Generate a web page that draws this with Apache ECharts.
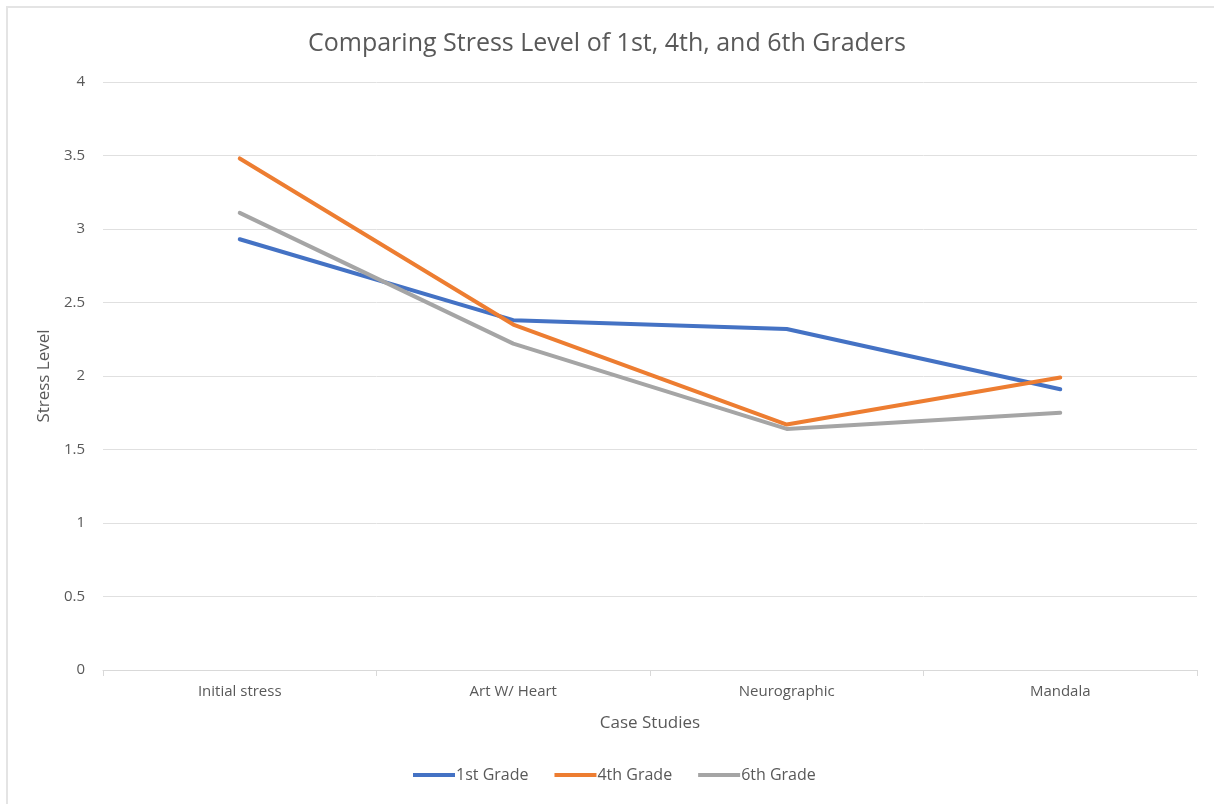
<!DOCTYPE html>
<html>
<head>
<meta charset="utf-8">
<script src="https://cdn.jsdelivr.net/npm/echarts@6/dist/echarts.min.js"></script>
<style>
  html, body { margin: 0; padding: 0; background: #fff; }
  #frame { position: absolute; left: 0; top: 0; width: 1214px; height: 804px; }
  #chart { position: absolute; left: 0; top: 0; width: 1214px; height: 804px; }
  #border { position: absolute; left: 6px; top: 6px; width: 1214px; height: 804px;
            border-top: 2px solid #e4e4e4; border-left: 2px solid #e4e4e4; box-sizing: border-box; pointer-events: none; }
</style>
</head>
<body>
<div id="frame">
  <div id="chart"></div>
  <div id="border"></div>
</div>
<script>
// Case studies along the x axis
const categories = ['Initial stress', 'Art W/ Heart', 'Neurographic', 'Mandala'];

// Mean stress level per grade
const grade1 = [2.93, 2.38, 2.32, 1.91];
const grade4 = [3.48, 2.35, 1.67, 1.99];
const grade6 = [3.11, 2.22, 1.64, 1.75];

const seriesNames = ['1st Grade', '4th Grade', '6th Grade'];
const seriesColors = ['#4472C4', '#ED7D31', '#A5A5A5'];

const FONT = '"Open Sans", "Liberation Sans", sans-serif';
const TEXT = '#595959';

const chart = echarts.init(document.getElementById('chart'), null, { renderer: 'canvas' });

const lineSeries = [grade1, grade4, grade6].map((data, i) => ({
  name: seriesNames[i],
  type: 'line',
  data: data,
  symbol: 'none',
  lineStyle: { width: 4, color: seriesColors[i], cap: 'round', join: 'round' },
  itemStyle: { color: seriesColors[i] },
  z: 2 + i
}));

chart.setOption({
  backgroundColor: 'transparent',
  animation: false,
  title: {
    text: 'Comparing Stress Level of 1st, 4th, and 6th Graders',
    left: 'center',
    top: 26,
    textStyle: { fontFamily: FONT, fontSize: 25, fontWeight: 'normal', color: TEXT }
  },
  legend: {
    bottom: 16,
    left: 408,
    itemWidth: 42,
    itemHeight: 4,
    itemGap: 26,
    icon: 'rect',
    textStyle: { fontFamily: FONT, fontSize: 16, color: TEXT, padding: [0, 0, 0, -4] },
    data: seriesNames
  },
  grid: { left: 103, right: 17, top: 82, bottom: 134, containLabel: false },
  xAxis: {
    type: 'category',
    data: categories,
    boundaryGap: true,
    name: 'Case Studies',
    nameLocation: 'middle',
    nameGap: 45,
    nameTextStyle: { fontFamily: FONT, fontSize: 17, color: TEXT },
    axisLine: { lineStyle: { color: '#d9d9d9', width: 1 } },
    axisTick: { show: true, length: 6, lineStyle: { color: '#d9d9d9' } },
    axisLabel: { fontFamily: FONT, fontSize: 15, color: TEXT, margin: 14 }
  },
  yAxis: {
    type: 'value',
    min: 0,
    max: 4,
    interval: 0.5,
    name: 'Stress Level',
    nameLocation: 'middle',
    nameGap: 49,
    nameRotate: 90,
    nameTextStyle: { fontFamily: FONT, fontSize: 17, color: TEXT },
    axisLine: { show: false },
    axisTick: { show: false },
    splitLine: { lineStyle: { color: '#e0e0e0', width: 1 } },
    axisLabel: { fontFamily: FONT, fontSize: 15, color: TEXT, margin: 18 }
  },
  series: lineSeries
});
</script>
</body>
</html>
